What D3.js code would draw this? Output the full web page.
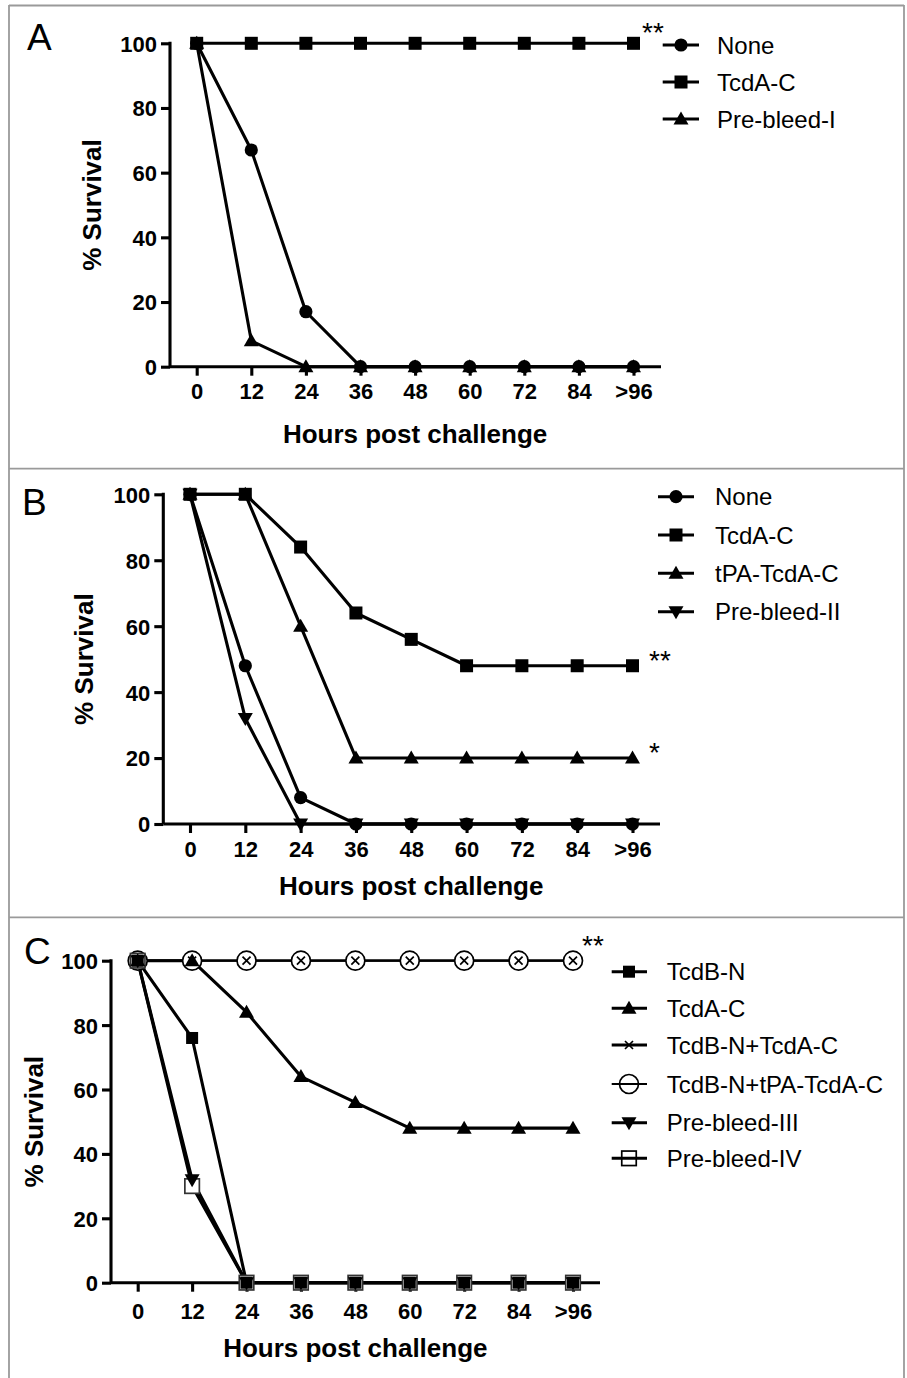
<!DOCTYPE html>
<html><head><meta charset="utf-8">
<script src="https://cdn.jsdelivr.net/npm/d3@7"></script>
<style>
html,body{margin:0;padding:0;background:#fff;}
svg{display:block;}
text{font-family:"Liberation Sans",Arial,Helvetica,sans-serif;}
</style></head>
<body>
<script>
// ---------- DATA ----------
const hours = ["0","12","24","36","48","60","72","84",">96"];
const yTicks = [0,20,40,60,80,100];

// Panel A
const A_none      = [100,67,17,0,0,0,0,0,0];
const A_tcdaC     = [100,100,100,100,100,100,100,100,100];
const A_prebleed1 = [100,8,0,0,0,0,0,0,0];

// Panel B
const B_none      = [100,48,8,0,0,0,0,0,0];
const B_tcdaC     = [100,100,84,64,56,48,48,48,48];
const B_tpaTcdaC  = [100,100,60,20,20,20,20,20,20];
const B_prebleed2 = [100,32,0,0,0,0,0,0,0];

// Panel C
const C_tcdbN        = [100,76,0,0,0,0,0,0,0];
const C_tcdaC        = [100,100,84,64,56,48,48,48,48];
const C_tcdbN_tcdaC  = [100,100,100,100,100,100,100,100,100];
const C_tcdbN_tpa    = [100,100,100,100,100,100,100,100,100];
const C_prebleed3    = [100,32,0,0,0,0,0,0,0];
const C_prebleed4    = [100,30,0,0,0,0,0,0,0];

// ---------- LAYOUT ----------
const W = 907, H = 1378;
const svg = d3.select("body").append("svg").attr("width",W).attr("height",H);

// frame
const frame = svg.append("g").attr("fill","none").attr("stroke","#9a9a9a").attr("stroke-width",1.8);
frame.append("line").attr("x1",9).attr("x2",9).attr("y1",5).attr("y2",H);
frame.append("line").attr("x1",904).attr("x2",904).attr("y1",5).attr("y2",H);
frame.append("line").attr("x1",9).attr("x2",904).attr("y1",5.5).attr("y2",5.5);
frame.append("line").attr("x1",9).attr("x2",904).attr("y1",468.7).attr("y2",468.7);
frame.append("line").attr("x1",9).attr("x2",904).attr("y1",917.3).attr("y2",917.3);

const LW = 3.1;

// marker drawing
function drawMarker(g, type, x, y){
  const m = g.append("g").attr("transform",`translate(${x},${y})`);
  if(type==="circle"){
    m.append("circle").attr("r",6.6).attr("fill","#000");
  } else if(type==="square"){
    const s=13; m.append("rect").attr("x",-s/2).attr("y",-s/2).attr("width",s).attr("height",s).attr("fill","#000");
  } else if(type==="squareSm"){
    const s=12; m.append("rect").attr("x",-s/2).attr("y",-s/2).attr("width",s).attr("height",s).attr("fill","#000");
  } else if(type==="triUp"){
    m.append("path").attr("d","M0,-7.5 L7.5,5.5 L-7.5,5.5 Z").attr("fill","#000");
  } else if(type==="triDown"){
    m.append("path").attr("d","M0,7.5 L7.5,-5.5 L-7.5,-5.5 Z").attr("fill","#000");
  } else if(type==="cross"){
    m.append("path").attr("d","M-4,-4 L4,4 M-4,4 L4,-4").attr("stroke","#000").attr("stroke-width",1.7).attr("fill","none");
  } else if(type==="openCircle"){
    m.append("circle").attr("r",9.5).attr("fill","#fff").attr("stroke","#000").attr("stroke-width",1.7);
  } else if(type==="openCircleLeg"){
    m.append("circle").attr("r",9.5).attr("fill","none").attr("stroke","#000").attr("stroke-width",1.7);
  } else if(type==="openSquare"){
    const s=14.5; m.append("rect").attr("x",-s/2).attr("y",-s/2).attr("width",s).attr("height",s).attr("fill","#fff").attr("stroke","#333").attr("stroke-width",1.7);
  } else if(type==="openSquareLeg"){
    const s=14.5; m.append("rect").attr("x",-s/2).attr("y",-s/2).attr("width",s).attr("height",s).attr("fill","none").attr("stroke","#000").attr("stroke-width",1.7);
  }
}

function panel(cfg){
  const g = svg.append("g");
  const x = d3.scalePoint().domain(hours).range([cfg.x0, cfg.x8]);
  const y = d3.scaleLinear().domain([0,100]).range([cfg.yb, cfg.yt]);

  // axes
  const yAxis = d3.axisLeft(y).tickValues(yTicks).tickSize(9).tickPadding(4).tickFormat(d3.format("d"));
  const ya = g.append("g").attr("transform",`translate(${cfg.ax},0)`).call(yAxis);
  ya.select(".domain").remove();
  ya.selectAll(".tick line").attr("stroke","#000").attr("stroke-width",LW);
  ya.selectAll(".tick text").attr("font-size",22).attr("font-weight","bold").attr("fill","#000").attr("dy","0.36em");
  g.append("line").attr("x1",cfg.ax).attr("x2",cfg.ax).attr("y1",y(100)-1.5).attr("y2",y(0)).attr("stroke","#000").attr("stroke-width",LW);

  const xAxis = d3.axisBottom(x).tickSize(9).tickPadding(0);
  const xa = g.append("g").attr("transform",`translate(0,${cfg.yb})`).call(xAxis);
  xa.select(".domain").remove();
  xa.selectAll(".tick line").attr("stroke","#000").attr("stroke-width",LW);
  xa.selectAll(".tick text").attr("font-size",22).attr("font-weight","bold").attr("fill","#000")
    .attr("dy",null).attr("y",cfg.tickOff);
  g.append("line").attr("x1",cfg.ax).attr("x2",cfg.xEnd).attr("y1",y(0)).attr("y2",y(0)).attr("stroke","#000").attr("stroke-width",LW);

  // titles
  g.append("text").attr("x",(cfg.x0+cfg.x8)/2).attr("y",cfg.yb+cfg.titleOff).attr("text-anchor","middle")
    .attr("font-size",26).attr("font-weight","bold").text("Hours post challenge");
  g.append("text").attr("transform",`translate(${cfg.ytX},${(cfg.yt+cfg.yb)/2}) rotate(-90)`).attr("text-anchor","middle")
    .attr("font-size",26).attr("font-weight","bold").text("% Survival");
  g.append("text").attr("x",cfg.lab[0]).attr("y",cfg.lab[1]).attr("font-size",37).text(cfg.label);

  const line = d3.line().x((d,i)=>x(hours[i])).y(d=>y(d));
  // lines
  cfg.series.forEach(s=>{
    g.append("path").datum(s.values).attr("d",line).attr("fill","none").attr("stroke","#000")
      .attr("stroke-width",s.lw||LW).attr("stroke-linejoin","round");
  });
  // markers
  cfg.series.forEach(s=>{
    s.values.forEach((v,i)=>drawMarker(g, s.marker, x(hours[i]), y(v)));
  });

  // legend
  cfg.legend.forEach((s,i)=>{
    const ly = cfg.leg.rows[i];
    const lg = g.append("g");
    const legMarker = s.legMarker || s.marker;
    if(s.markerFirst){
      drawMarker(lg, legMarker, cfg.leg.mx, ly);
      lg.append("line").attr("x1",cfg.leg.l1).attr("x2",cfg.leg.l2).attr("y1",ly).attr("y2",ly).attr("stroke","#000").attr("stroke-width",s.legLw||LW);
    } else {
      lg.append("line").attr("x1",cfg.leg.l1).attr("x2",cfg.leg.l2).attr("y1",ly).attr("y2",ly).attr("stroke","#000").attr("stroke-width",s.legLw||LW);
      drawMarker(lg, legMarker, cfg.leg.mx, ly);
    }
    lg.append("text").attr("x",cfg.leg.tx).attr("y",ly).attr("dy","0.36em").attr("font-size",24).text(s.name);
  });

  // significance
  cfg.stars.forEach(st=>{
    g.append("text").attr("x",st[0]).attr("y",st[1]).attr("font-size",28).text(st[2]);
  });
}

// Panel A
panel({
  label:"A", lab:[27,50],
  ax:170, x0:196.7, x8:633.5, xEnd:661, yt:43.3, yb:366.7, tickOff:32.5, titleOff:76.5, ytX:101,
  series:[
    {name:"Pre-bleed-I", values:A_prebleed1, marker:"triUp"},
    {name:"TcdA-C", values:A_tcdaC, marker:"square"},
    {name:"None", values:A_none, marker:"circle"}
  ],
  legend:[
    {name:"None", marker:"circle"},
    {name:"TcdA-C", marker:"square"},
    {name:"Pre-bleed-I", marker:"triUp"}
  ],
  leg:{l1:662.7,l2:699,mx:681,tx:717,rows:[45,82,119]},
  stars:[[642,42,"**"]]
});

// Panel B
panel({
  label:"B", lab:[22,515],
  ax:163.3, x0:190, x8:632.5, xEnd:660, yt:494.3, yb:824, tickOff:32.7, titleOff:71, ytX:93,
  series:[
    {name:"tPA-TcdA-C", values:B_tpaTcdaC, marker:"triUp"},
    {name:"None", values:B_none, marker:"circle"},
    {name:"Pre-bleed-II", values:B_prebleed2, marker:"triDown"},
    {name:"TcdA-C", values:B_tcdaC, marker:"square"}
  ],
  legend:[
    {name:"None", marker:"circle"},
    {name:"TcdA-C", marker:"square"},
    {name:"tPA-TcdA-C", marker:"triUp"},
    {name:"Pre-bleed-II", marker:"triDown"}
  ],
  leg:{l1:658,l2:694,mx:676,tx:715,rows:[496.7,535,573.3,611.7]},
  stars:[[649,670,"**"],[649,762,"*"]]
});

// Panel C
panel({
  label:"C", lab:[24,964],
  ax:111, x0:137.7, x8:573, xEnd:600, yt:960.7, yb:1282.7, tickOff:36.3, titleOff:74, ytX:43,
  series:[
    {name:"TcdB-N+tPA-TcdA-C", values:C_tcdbN_tpa, marker:"openCircle", lw:2.2},
    {name:"TcdB-N+TcdA-C", values:C_tcdbN_tcdaC, marker:"cross", lw:2.2},
    {name:"Pre-bleed-IV", values:C_prebleed4, marker:"openSquare"},
    {name:"Pre-bleed-III", values:C_prebleed3, marker:"triDown"},
    {name:"TcdB-N", values:C_tcdbN, marker:"squareSm"},
    {name:"TcdA-C", values:C_tcdaC, marker:"triUp"}
  ],
  legend:[
    {name:"TcdB-N", marker:"squareSm"},
    {name:"TcdA-C", marker:"triUp"},
    {name:"TcdB-N+TcdA-C", marker:"cross"},
    {name:"TcdB-N+tPA-TcdA-C", legMarker:"openCircleLeg", markerFirst:true, legLw:2.2},
    {name:"Pre-bleed-III", marker:"triDown"},
    {name:"Pre-bleed-IV", legMarker:"openSquareLeg", markerFirst:true}
  ],
  leg:{l1:611.7,l2:647,mx:629,tx:666.7,rows:[971.7,1008.3,1045,1084,1122.7,1158.3]},
  stars:[[582,955,"**"]]
});
</script>
</body></html>
